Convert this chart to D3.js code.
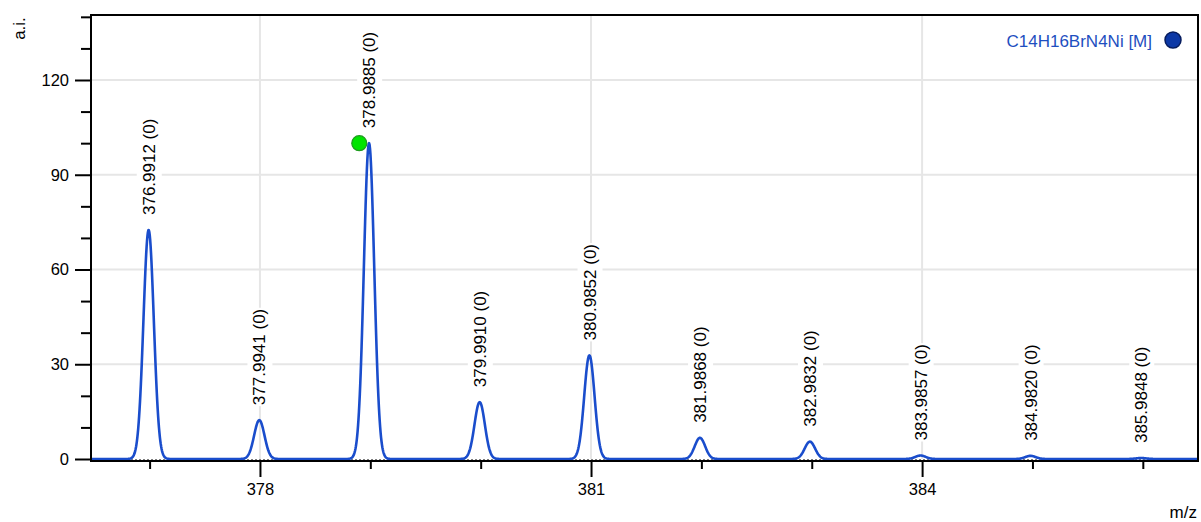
<!DOCTYPE html>
<html>
<head>
<meta charset="utf-8">
<script src="https://cdn.jsdelivr.net/npm/d3@7"></script>
<style>
  body { margin: 0; background: #fff; }
  svg text { font-family: "Liberation Sans", Arial, sans-serif; fill: #000; }
</style>
</head>
<body>
<svg id="chart" width="1201" height="522"></svg>
<script>
// Isotope pattern of C14H16BrN4Ni [M]: centroid m/z, relative intensity and charge of each peak
const peakMz = [376.9912, 377.9941, 378.9885, 379.9910, 380.9852, 381.9868, 382.9832, 383.9857, 384.9820, 385.9848];
const peakIntensity = [72.5, 12.3, 100, 18.0, 32.8, 6.7, 5.5, 1.1, 1.0, 0.3];
const peakCharge = [0, 0, 0, 0, 0, 0, 0, 0, 0, 0];

// Highlighted reference point
const markerMz = [378.90];
const markerIntensity = [100];

const xMajorTicks = [378, 381, 384];
const xMinorTicks = [377, 379, 380, 382, 383, 385, 386];
const yMajorTicks = [0, 30, 60, 90, 120];
const yMinorTicks = [10, 20, 40, 50, 70, 80, 100, 110, 130, 140];

const legendLabel = "C14H16BrN4Ni [M]";
const xAxisTitle = "m/z";
const yAxisTitle = "a.i.";

// Instrument peak width (Gaussian sigma, in m/z) and profile sampling step
const peakSigma = 0.047;
const profileStep = 0.004;

const svg = d3.select("#chart");
const plotLeft = 91, plotRight = 1198, plotTop = 15, zeroY = 459, axisY = 461;

const x = d3.scaleLinear().domain([376.469, 386.50]).range([plotLeft, plotRight]);
const y = d3.scaleLinear().domain([0, 140.58]).range([zeroY, plotTop]);

const peaks = peakMz.map((mz, i) => ({ mz, intensity: peakIntensity[i], charge: peakCharge[i] }));

// Grid
const grid = svg.append("g").attr("stroke", "#e6e6e6").attr("stroke-width", 2);
grid.selectAll("line.h").data(yMajorTicks.filter(d => d > 0)).join("line").attr("class", "h")
  .attr("x1", plotLeft).attr("x2", plotRight).attr("y1", d => y(d)).attr("y2", d => y(d));
grid.selectAll("line.v").data(xMajorTicks).join("line").attr("class", "v")
  .attr("x1", d => x(d)).attr("x2", d => x(d)).attr("y1", plotTop).attr("y2", zeroY);

// Profile spectrum built from the peak list
const profile = d3.range(x.domain()[0], x.domain()[1] + profileStep / 2, profileStep).map(m => {
  let v = 0;
  for (const p of peaks) {
    const d = (m - p.mz) / peakSigma;
    if (Math.abs(d) < 6) v += p.intensity * Math.exp(-0.5 * d * d);
  }
  return [m, v];
});
// make sure each apex is sampled exactly
peaks.forEach(p => profile.push([p.mz, p.intensity]));
profile.sort((a, b) => a[0] - b[0]);

// Peak labels with a white backing
const labels = svg.append("g");
peaks.forEach(p => {
  const g = labels.append("g")
    .attr("transform", `translate(${x(p.mz)},${y(p.intensity) - 15}) rotate(-90)`);
  const bg = g.append("rect").attr("fill", "#fff");
  const t = g.append("text")
    .attr("font-size", 17)
    .attr("dy", "0.36em")
    .attr("text-anchor", "start")
    .text(`${p.mz.toFixed(4)} (${p.charge})`);
  const bb = t.node().getBBox();
  bg.attr("x", bb.x - 1).attr("y", bb.y - 3).attr("width", bb.width + 2).attr("height", bb.height + 6);
});

// Baseline dotted line
svg.append("line")
  .attr("x1", plotLeft).attr("x2", plotRight).attr("y1", zeroY + 1).attr("y2", zeroY + 1)
  .attr("stroke", "#000").attr("stroke-width", 1.2).attr("stroke-dasharray", "2,2");

// Spectrum trace
svg.append("path")
  .datum(profile)
  .attr("fill", "none")
  .attr("stroke", "#1a4dcc")
  .attr("stroke-width", 2.6)
  .attr("stroke-linejoin", "round")
  .attr("d", d3.line().x(d => x(d[0])).y(d => y(d[1])));

// Marker
svg.selectAll("circle.marker").data(markerMz).join("circle")
  .attr("class", "marker")
  .attr("cx", d => x(d)).attr("cy", (d, i) => y(markerIntensity[i]))
  .attr("r", 7.5)
  .attr("fill", "#00e400").attr("stroke", "#1e9a1e").attr("stroke-width", 1.2);

// Axes
const yAxis = svg.append("g").attr("transform", `translate(${plotLeft},0)`)
  .call(d3.axisLeft(y).tickValues(yMajorTicks).tickSize(16).tickSizeOuter(0).tickPadding(6));
const yMinor = svg.append("g").attr("transform", `translate(${plotLeft},0)`)
  .call(d3.axisLeft(y).tickValues(yMinorTicks).tickSize(10).tickFormat(""));
const xAxis = svg.append("g").attr("transform", `translate(0,${axisY})`)
  .call(d3.axisBottom(x).tickValues(xMajorTicks).tickSize(16).tickSizeOuter(0).tickPadding(6).tickFormat(d3.format("d")));
const xMinor = svg.append("g").attr("transform", `translate(0,${axisY})`)
  .call(d3.axisBottom(x).tickValues(xMinorTicks).tickSize(8).tickFormat(""));

[yAxis, yMinor, xAxis, xMinor].forEach(a => {
  a.select(".domain").remove();
  a.selectAll(".tick line").attr("stroke", "#000").attr("stroke-width", 2);
  a.selectAll(".tick text").attr("font-size", 16.5).attr("fill", "#000")
    .style("font-family", '"Liberation Sans", Arial, sans-serif');
});

// Frame
const frame = svg.append("g").attr("stroke", "#000").attr("stroke-width", 2).attr("fill", "none");
frame.append("path").attr("d", `M${plotLeft},${plotTop} H${plotRight} V${axisY} H${plotLeft} Z`);

// Axis titles
svg.append("text")
  .attr("transform", `translate(25,28.5) rotate(-90)`)
  .attr("text-anchor", "middle").attr("font-size", 17)
  .text(yAxisTitle);
svg.append("text")
  .attr("x", 1197).attr("y", 518)
  .attr("text-anchor", "end").attr("font-size", 17)
  .text(xAxisTitle);

// Legend
svg.append("text")
  .attr("x", 1152).attr("y", 46.5)
  .attr("text-anchor", "end").attr("font-size", 17)
  .style("fill", "#1e4fc0")
  .text(legendLabel);
svg.append("circle")
  .attr("cx", 1173).attr("cy", 40).attr("r", 8)
  .attr("fill", "#0c38a6").attr("stroke", "#061c5e").attr("stroke-width", 1.5);
</script>
</body>
</html>
